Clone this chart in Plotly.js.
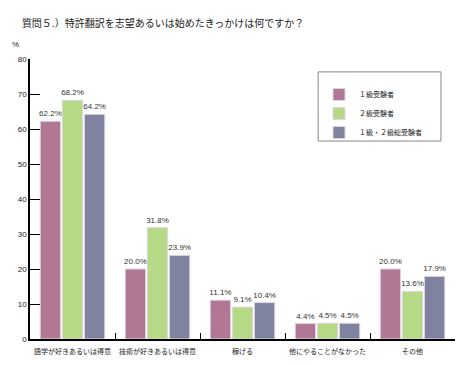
<!DOCTYPE html>
<html><head><meta charset="utf-8">
<script src="https://cdn.plot.ly/plotly-3.0.1.min.js"></script>
<style>html,body{margin:0;padding:0;background:#fff}</style>
</head><body>
<div id="chart" style="width:456px;height:366px"></div>
<script>
var categories = ["語学が好きあるいは得意", "技術が好きあるいは得意", "稼げる", "他にやることがなかった", "その他"];
var seriesNames = ["１級受験者", "２級受験者", "１級・２級総受験者"];
var grade1 = [62.2, 20.0, 11.1, 4.4, 20.0];
var grade2 = [68.2, 31.8, 9.1, 4.5, 13.6];
var total = [64.2, 23.9, 10.4, 4.5, 17.9];
var colors = ["#b07894", "#b5d984", "#80839f"];
var F = "'Noto Sans CJK JP', 'DejaVu Sans', sans-serif";
var L = "'Liberation Sans', Arial, sans-serif";
var data = [grade1, grade2, total].map(function(v, i){
  return {type:"bar", name: seriesNames[i], x: categories, y: v, legendgroup:"g"+i,
    marker:{color: colors[i], line:{color:"#ddd6e2", width:1}},
    text: v.map(function(d){return d.toFixed(1)+"%";}),
    textposition:"outside", cliponaxis:false, constraintext:"none",
    textfont:{size:8, color:"#333", family:L}};
});
var layout = {
  width:456, height:366, margin:{l:30, r:1, t:59, b:27},
  paper_bgcolor:"#fff", plot_bgcolor:"#fff",
  font:{family:F, size:8, color:"#222"},
  barmode:"group", bargap:0.22, bargroupgap:0.08,
  showlegend:true,
  legend:{x:0.68, y:0.925, xanchor:"left", yanchor:"top", borderwidth:0,
    bgcolor:"rgba(0,0,0,0)", font:{size:7, family:F, color:"#222"}, tracegroupgap:0,
    traceorder:"grouped"},
  shapes:[{type:"rect", xref:"paper", yref:"paper", x0:0.678, x1:0.967, y0:0.707, y1:0.954,
    line:{color:"#888", width:1}, fillcolor:"rgba(0,0,0,0)", layer:"below"}],
  title:{text:"質問５.）特許翻訳を志望あるいは始めたきっかけは何ですか？", x:0.048, xanchor:"left", y:0.935, yanchor:"middle",
    font:{size:10, family:F, color:"#222"}},
  xaxis:{type:"category", showline:true, linecolor:"#000", linewidth:1.5, ticks:"inside", ticklen:6,
    tickcolor:"#000", tickson:"boundaries", showgrid:false, tickangle:0, ticklabelstandoff:5,
    tickfont:{size:7, family:F}, zeroline:false},
  yaxis:{range:[0,80], dtick:10, showline:true, linecolor:"#000", linewidth:1.5, ticks:"inside", ticklen:10,
    tickcolor:"#000", showgrid:false, zeroline:false, tickfont:{size:8, family:L}},
  annotations:[{text:"%", xref:"paper", yref:"paper", x:-0.035, y:1.05, showarrow:false, xanchor:"center", yanchor:"middle",
    font:{size:8, family:L}}]
};
Plotly.newPlot("chart", data, layout, {displayModeBar:false});
</script>
</body></html>
